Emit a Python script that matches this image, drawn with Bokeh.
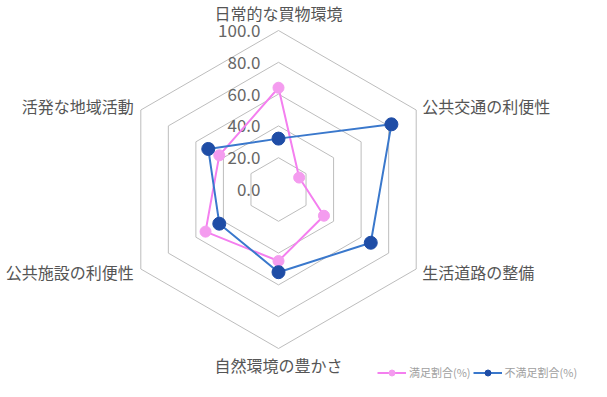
import numpy as np
from bokeh.plotting import figure
from bokeh.models import Range1d, Legend, LegendItem, ColumnDataSource
from bokeh.core.properties import value
from bokeh.embed import file_html
from bokeh.resources import INLINE

categories = ["日常的な買物環境", "公共交通の利便性", "生活道路の整備",
              "自然環境の豊かさ", "公共施設の利便性", "活発な地域活動"]
satisfied = [64, 15, 33, 45, 53, 43]      # 満足割合(%)
dissatisfied = [32, 82, 67, 52, 43, 51]   # 不満足割合(%)
ring_values = [20, 40, 60, 80, 100]
tick_values = [0, 20, 40, 60, 80, 100]
tick_labels = ["0.0", "20.0", "40.0", "60.0", "80.0", "100.0"]

FONT = "Noto Sans CJK JP"
W, H = 591, 381
PX = 1.59           # pixels per unit
CX, CY = 278, 189   # centre in figure pixels (from top-left)

p = figure(width=W, height=H, output_backend="svg", toolbar_location=None,
           x_range=Range1d(-CX / PX, (W - CX) / PX),
           y_range=Range1d(-(H - CY) / PX, CY / PX),
           min_border=0)
p.axis.visible = False
p.grid.visible = False
p.outline_line_color = None
p.background_fill_color = "white"

n = len(categories)
angles = np.deg2rad(90 - 360.0 / n * np.arange(n))
cosa, sina = np.cos(angles), np.sin(angles)

# hexagonal rings
xs, ys = [], []
for r in ring_values:
    xs.append(list(r * cosa) + [r * cosa[0]])
    ys.append(list(r * sina) + [r * sina[0]])
p.multi_line(xs, ys, line_color="#BDBDBD", line_width=1)

# tick labels
p.text(x=[0] * len(tick_values), y=tick_values, text=tick_labels,
       text_font=value(FONT), text_font_size="17px", text_color="#666666",
       text_align="right", text_baseline="middle", x_offset=-18)

# category labels
R = max(ring_values)
lab = ColumnDataSource(dict(
    x=list(R * cosa), y=list(R * sina), text=categories,
    align=["center", "left", "left", "center", "right", "right"],
    xo=[0, 6, 6, 0, -7, -7],
    yo=[-18, -4, 3, 16, 3, -4],
))
p.text(x="x", y="y", text="text", source=lab, text_align="align",
       text_baseline="middle", x_offset="xo", y_offset="yo",
       text_font=value(FONT), text_font_size="16px", text_color="#555555")

def closed(vals):
    v = np.array(vals, dtype=float)
    x = v * cosa
    y = v * sina
    return list(x) + [x[0]], list(y) + [y[0]], list(x), list(y)

PINK = "#F47FEF"
PINK_M = "#F49CEF"
BLUE = "#3A78CC"
BLUE_M = "#1F4DA6"

sx, sy, spx, spy = closed(satisfied)
dx, dy, dpx, dpy = closed(dissatisfied)

l1 = p.line(sx, sy, line_color=PINK, line_width=2)
m1 = p.scatter(spx, spy, marker="circle", size=11, fill_color=PINK_M, line_color=PINK_M)
l2 = p.line(dx, dy, line_color=BLUE, line_width=2)
m2 = p.scatter(dpx, dpy, marker="circle", size=13, fill_color=BLUE_M, line_color=BLUE_M)

legend = Legend(items=[LegendItem(label="満足割合(%)", renderers=[l1, m1]),
                       LegendItem(label="不満足割合(%)", renderers=[l2, m2])],
                orientation="horizontal", location=(377, 1),
                glyph_width=29, glyph_height=15, label_height=15,
                label_standoff=3, spacing=2, padding=0, margin=0,
                border_line_color=None, background_fill_alpha=0,
                label_text_font=FONT, label_text_font_size="11px",
                label_text_color="#A0A0A0")
p.add_layout(legend, "center")

open("out.html", "w").write(file_html(p, INLINE))
